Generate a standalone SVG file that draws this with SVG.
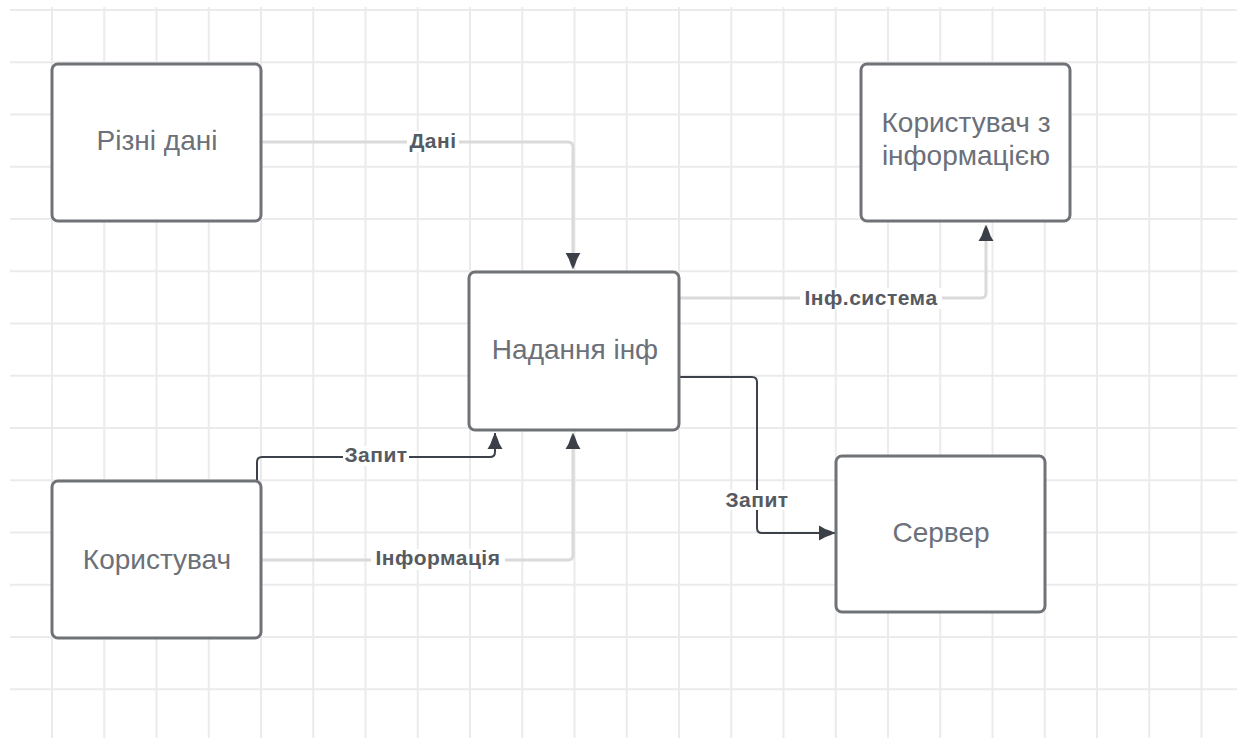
<svg xmlns="http://www.w3.org/2000/svg" width="1237" height="738" viewBox="0 0 1237 738">
  <style>
    .grid { stroke: #ebebeb; stroke-width: 2; fill: none; }
    .box { fill: #ffffff; stroke: #6f7277; stroke-width: 3; }
    .ntext { font-family: "Liberation Sans", Arial, sans-serif; font-size: 28px; fill: #6b7079; text-anchor: middle; }
    .lbl { font-family: "Liberation Sans", Arial, sans-serif; font-size: 21px; font-weight: bold; fill: #565a61; text-anchor: middle; letter-spacing: 0.5px; }
    .lblbg { fill: #ffffff; }
    .soft { fill: none; stroke: #dadada; stroke-width: 3; }
    .dark { fill: none; stroke: #3d424a; stroke-width: 2; }
  </style>
  <defs>
    <marker id="arrow" markerUnits="userSpaceOnUse" markerWidth="20" markerHeight="20" viewBox="-18 -10 20 20" refX="0" refY="0" orient="auto">
      <path d="M0,0 L-4,-2 Q-11,-4 -16,-7.5 L-16,7.5 Q-11,4 -4,2 Z" fill="#3a3f48"/>
    </marker>
  </defs>

  <rect x="0" y="0" width="1237" height="738" fill="#ffffff"/>

  <!-- background grid -->
  <g id="grid" class="grid">
    <path d="M52,7V738 M104.25,7V738 M156.5,7V738 M208.75,7V738 M261,7V738 M313.25,7V738 M365.5,7V738 M417.75,7V738 M470,7V738 M522.25,7V738 M574.5,7V738 M626.75,7V738 M679,7V738 M731.25,7V738 M783.5,7V738 M835.75,7V738 M888,7V738 M940.25,7V738 M992.5,7V738 M1044.75,7V738 M1097,7V738 M1149.25,7V738 M1201.5,7V738"/>
    <path d="M10,10H1237 M10,62.25H1237 M10,114.5H1237 M10,166.75H1237 M10,219H1237 M10,271.25H1237 M10,323.5H1237 M10,375.75H1237 M10,428H1237 M10,480.25H1237 M10,532.5H1237 M10,584.75H1237 M10,637H1237 M10,689.25H1237"/>
  </g>

  <!-- connectors -->
  <g id="connectors">
    <path class="soft" d="M261,142 H568 Q573,142 573,147 V269" marker-end="url(#arrow)"/>
    <path class="soft" d="M680,298 H981 Q986,298 986,293 V225" marker-end="url(#arrow)"/>
    <path class="dark" d="M680,377 H752 Q757,377 757,382 V528 Q757,533 762,533 H835" marker-end="url(#arrow)"/>
    <path class="dark" d="M257,481 V462 Q257,457 262,457 H490 Q495,457 495,452 V433" marker-end="url(#arrow)"/>
    <path class="soft" d="M261,560 H568 Q573,560 573,555 V433" marker-end="url(#arrow)"/>

    <rect class="lblbg" x="407" y="131" width="52" height="21"/>
    <text class="lbl" x="433" y="148">Дані</text>

    <rect class="lblbg" x="800" y="288" width="142" height="21"/>
    <text class="lbl" x="871" y="305">Інф.система</text>

    <rect class="lblbg" x="723" y="490" width="68" height="20"/>
    <text class="lbl" x="757" y="507">Запит</text>

    <rect class="lblbg" x="343" y="446" width="66" height="20"/>
    <text class="lbl" x="376" y="462">Запит</text>

    <rect class="lblbg" x="371" y="549" width="134" height="21"/>
    <text class="lbl" x="438" y="565">Інформація</text>
  </g>

  <!-- nodes -->
  <g id="node-rizni-dani">
    <rect class="box" x="52" y="64" width="209" height="157" rx="6"/>
    <text class="ntext" x="157" y="150">Різні дані</text>
  </g>
  <g id="node-nadannia-inf">
    <rect class="box" x="469" y="272" width="210" height="158" rx="6"/>
    <text class="ntext" x="575" y="359">Надання інф</text>
  </g>
  <g id="node-korystuvach-z-info">
    <rect class="box" x="861" y="64" width="209" height="157" rx="6"/>
    <text class="ntext" x="966" y="132">Користувач з</text>
    <text class="ntext" x="966" y="165">інформацією</text>
  </g>
  <g id="node-korystuvach">
    <rect class="box" x="52" y="481" width="209" height="157" rx="6"/>
    <text class="ntext" x="157" y="569">Користувач</text>
  </g>
  <g id="node-server">
    <rect class="box" x="836" y="456" width="209" height="156" rx="6"/>
    <text class="ntext" x="941" y="542">Сервер</text>
  </g>
</svg>
